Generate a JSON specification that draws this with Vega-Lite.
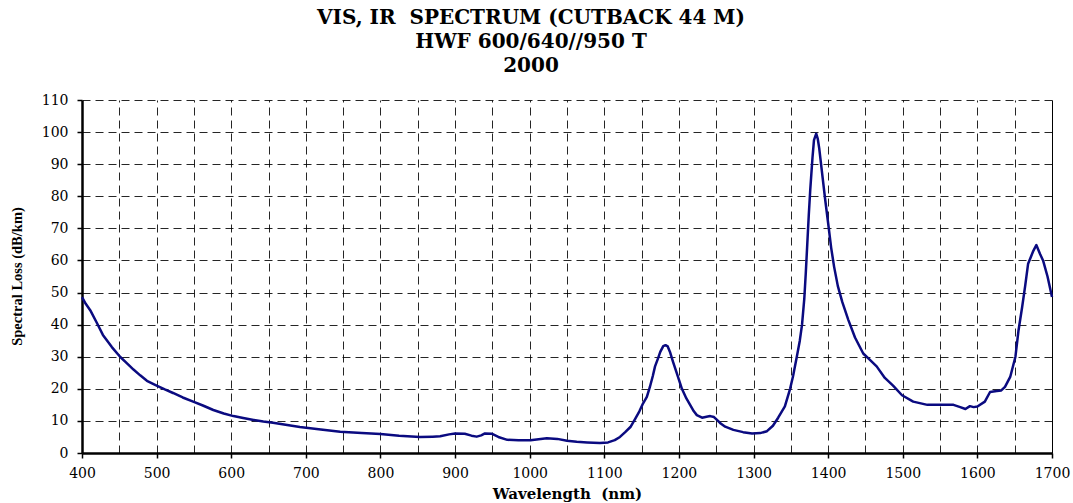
{
  "$schema": "https://vega.github.io/schema/vega-lite/v6.json",
  "width": 970,
  "height": 353,
  "autosize": {"type": "none"},
  "padding": {"left": 82, "top": 100, "right": 21, "bottom": 50},
  "background": "white",
  "title": {
    "text": ["VIS, IR\u00a0 SPECTRUM (CUTBACK 44 M)", "HWF 600/640//950 T", "2000"],
    "font": "DejaVu Serif",
    "fontWeight": "bold",
    "fontSize": 20,
    "lineHeight": 24,
    "anchor": "middle",
    "dx": -36,
    "offset": 17,
    "color": "black"
  },
  "config": {
    "view": {"stroke": null},
    "axis": {
      "labelFont": "DejaVu Serif",
      "labelFontSize": 14,
      "labelColor": "black",
      "titleColor": "black",
      "gridColor": "black",
      "gridDash": [8, 5],
      "gridWidth": 1,
      "gridOpacity": 0.85,
      "domainColor": "black",
      "tickColor": "black"
    }
  },
  "data": {
    "values": [
      {"wl": 400, "loss": 48.6}, {"wl": 405, "loss": 46.5}, {"wl": 411, "loss": 44.5}, {"wl": 420, "loss": 40.5},
      {"wl": 428, "loss": 36.8}, {"wl": 440, "loss": 33.0}, {"wl": 451, "loss": 30.0}, {"wl": 460, "loss": 28.0},
      {"wl": 469, "loss": 26.0}, {"wl": 478, "loss": 24.2}, {"wl": 487, "loss": 22.5}, {"wl": 500, "loss": 21.0},
      {"wl": 511, "loss": 19.8}, {"wl": 522, "loss": 18.7}, {"wl": 535, "loss": 17.3}, {"wl": 549, "loss": 16.0},
      {"wl": 562, "loss": 14.8}, {"wl": 576, "loss": 13.4}, {"wl": 590, "loss": 12.3}, {"wl": 603, "loss": 11.5},
      {"wl": 616, "loss": 10.9}, {"wl": 630, "loss": 10.3}, {"wl": 643, "loss": 9.8}, {"wl": 656, "loss": 9.4},
      {"wl": 675, "loss": 8.7}, {"wl": 692, "loss": 8.1}, {"wl": 720, "loss": 7.3}, {"wl": 746, "loss": 6.6},
      {"wl": 775, "loss": 6.2}, {"wl": 800, "loss": 5.9}, {"wl": 825, "loss": 5.4}, {"wl": 853, "loss": 5.0},
      {"wl": 870, "loss": 5.1}, {"wl": 880, "loss": 5.2}, {"wl": 892, "loss": 5.8}, {"wl": 900, "loss": 6.1},
      {"wl": 913, "loss": 6.0}, {"wl": 922, "loss": 5.4}, {"wl": 929, "loss": 5.1}, {"wl": 935, "loss": 5.5},
      {"wl": 940, "loss": 6.1}, {"wl": 949, "loss": 6.0}, {"wl": 958, "loss": 5.0}, {"wl": 970, "loss": 4.1},
      {"wl": 985, "loss": 4.0}, {"wl": 1001, "loss": 4.0}, {"wl": 1012, "loss": 4.3}, {"wl": 1023, "loss": 4.6},
      {"wl": 1037, "loss": 4.4}, {"wl": 1050, "loss": 3.8}, {"wl": 1063, "loss": 3.5}, {"wl": 1077, "loss": 3.3},
      {"wl": 1094, "loss": 3.1}, {"wl": 1105, "loss": 3.3}, {"wl": 1114, "loss": 4.0}, {"wl": 1121, "loss": 5.0},
      {"wl": 1128, "loss": 6.5}, {"wl": 1135, "loss": 8.1}, {"wl": 1141, "loss": 10.5}, {"wl": 1147, "loss": 13.0},
      {"wl": 1152, "loss": 15.5}, {"wl": 1157, "loss": 17.5}, {"wl": 1161, "loss": 20.5}, {"wl": 1165, "loss": 24.0},
      {"wl": 1168, "loss": 27.0}, {"wl": 1172, "loss": 29.5}, {"wl": 1175, "loss": 31.5}, {"wl": 1179, "loss": 33.3},
      {"wl": 1182, "loss": 33.6}, {"wl": 1185, "loss": 33.2}, {"wl": 1188, "loss": 31.5}, {"wl": 1192, "loss": 28.5},
      {"wl": 1197, "loss": 25.0}, {"wl": 1204, "loss": 20.0}, {"wl": 1210, "loss": 17.0}, {"wl": 1215, "loss": 15.0},
      {"wl": 1220, "loss": 13.0}, {"wl": 1224, "loss": 11.8}, {"wl": 1231, "loss": 11.0}, {"wl": 1237, "loss": 11.3},
      {"wl": 1242, "loss": 11.5}, {"wl": 1247, "loss": 11.2}, {"wl": 1251, "loss": 10.3}, {"wl": 1256, "loss": 9.2},
      {"wl": 1262, "loss": 8.2}, {"wl": 1273, "loss": 7.2}, {"wl": 1286, "loss": 6.5}, {"wl": 1298, "loss": 6.1},
      {"wl": 1309, "loss": 6.2}, {"wl": 1318, "loss": 6.8}, {"wl": 1326, "loss": 8.5}, {"wl": 1333, "loss": 11.0},
      {"wl": 1342, "loss": 14.5}, {"wl": 1349, "loss": 20.0}, {"wl": 1353, "loss": 24.0}, {"wl": 1358, "loss": 30.0},
      {"wl": 1362, "loss": 35.0}, {"wl": 1365, "loss": 40.0}, {"wl": 1368, "loss": 48.0}, {"wl": 1370, "loss": 56.0},
      {"wl": 1372, "loss": 65.0}, {"wl": 1374, "loss": 74.0}, {"wl": 1376, "loss": 82.0}, {"wl": 1379, "loss": 92.0},
      {"wl": 1381, "loss": 97.5}, {"wl": 1384, "loss": 99.5}, {"wl": 1386, "loss": 98.0}, {"wl": 1388, "loss": 95.0},
      {"wl": 1392, "loss": 87.0}, {"wl": 1396, "loss": 79.0}, {"wl": 1400, "loss": 71.6}, {"wl": 1404, "loss": 64.0},
      {"wl": 1408, "loss": 58.0}, {"wl": 1413, "loss": 52.0}, {"wl": 1419, "loss": 47.0}, {"wl": 1427, "loss": 41.5},
      {"wl": 1436, "loss": 36.0}, {"wl": 1447, "loss": 31.0}, {"wl": 1456, "loss": 29.0}, {"wl": 1465, "loss": 27.0},
      {"wl": 1476, "loss": 23.4}, {"wl": 1487, "loss": 21.0}, {"wl": 1499, "loss": 18.0}, {"wl": 1514, "loss": 16.0},
      {"wl": 1533, "loss": 15.0}, {"wl": 1550, "loss": 15.0}, {"wl": 1568, "loss": 15.0}, {"wl": 1577, "loss": 14.3},
      {"wl": 1584, "loss": 13.7}, {"wl": 1590, "loss": 14.6}, {"wl": 1595, "loss": 14.3}, {"wl": 1600, "loss": 14.5},
      {"wl": 1610, "loss": 16.0}, {"wl": 1617, "loss": 19.0}, {"wl": 1626, "loss": 19.3}, {"wl": 1632, "loss": 19.5},
      {"wl": 1637, "loss": 20.6}, {"wl": 1644, "loss": 23.7}, {"wl": 1651, "loss": 30.0}, {"wl": 1655, "loss": 38.0},
      {"wl": 1660, "loss": 45.5}, {"wl": 1664, "loss": 52.0}, {"wl": 1668, "loss": 59.0}, {"wl": 1675, "loss": 63.0},
      {"wl": 1679, "loss": 64.8}, {"wl": 1684, "loss": 62.0}, {"wl": 1688, "loss": 60.0}, {"wl": 1694, "loss": 55.0},
      {"wl": 1700, "loss": 48.6}
    ]
  },
  "layer": [
    {
      "mark": {"type": "line", "strokeOpacity": 0},
      "encoding": {
        "x": {
          "field": "wl", "type": "quantitative",
          "scale": {"domain": [400, 1700], "nice": false, "zero": false},
          "axis": {
            "orient": "top",
            "values": [450, 500, 550, 600, 650, 700, 750, 800, 850, 900, 950, 1000, 1050, 1100, 1150, 1200, 1250, 1300, 1350, 1400, 1450, 1500, 1550, 1600, 1650],
            "grid": true, "labels": false, "ticks": false, "domain": false, "title": null
          }
        },
        "y": {
          "field": "loss", "type": "quantitative",
          "scale": {"domain": [0, 110], "nice": false},
          "axis": {"orient": "right", "grid": false, "labels": false, "ticks": false, "domain": true, "domainWidth": 1, "title": null}
        }
      }
    },
    {
      "mark": {"type": "line", "color": "#0a0a80", "strokeWidth": 2.5, "strokeJoin": "round"},
      "encoding": {
        "x": {
          "field": "wl", "type": "quantitative",
          "scale": {"domain": [400, 1700], "nice": false, "zero": false},
          "axis": {
            "orient": "bottom",
            "values": [400, 500, 600, 700, 800, 900, 1000, 1100, 1200, 1300, 1400, 1500, 1600, 1700],
            "format": "d",
            "grid": false,
            "domainWidth": 2.5,
            "tickSize": 5,
            "tickWidth": 1.5,
            "labelPadding": 8,
            "labelFlush": false,
            "title": "Wavelength\u00a0 (nm)",
            "titleFont": "DejaVu Serif",
            "titleFontWeight": "bold",
            "titleFontSize": 15,
            "titleY": 45,
            "titleBaseline": "alphabetic"
          }
        },
        "y": {
          "field": "loss", "type": "quantitative",
          "scale": {"domain": [0, 110], "nice": false},
          "axis": {
            "orient": "left",
            "values": [0, 10, 20, 30, 40, 50, 60, 70, 80, 90, 100, 110],
            "format": "d",
            "grid": true,
            "domainWidth": 2.5,
            "tickSize": 5,
            "tickWidth": 1.5,
            "labelPadding": 9,
            "labelFlush": false,
            "title": "Spectral Loss (dB/km)",
            "titleFont": "Liberation Serif",
            "titleFontWeight": "bold",
            "titleFontSize": 14.5,
            "titleX": -65,
            "titleY": 176,
            "titleAngle": -90,
            "titleAlign": "center",
            "titleBaseline": "middle"
          }
        }
      }
    }
  ],
  "resolve": {"axis": {"x": "independent", "y": "independent"}}
}
